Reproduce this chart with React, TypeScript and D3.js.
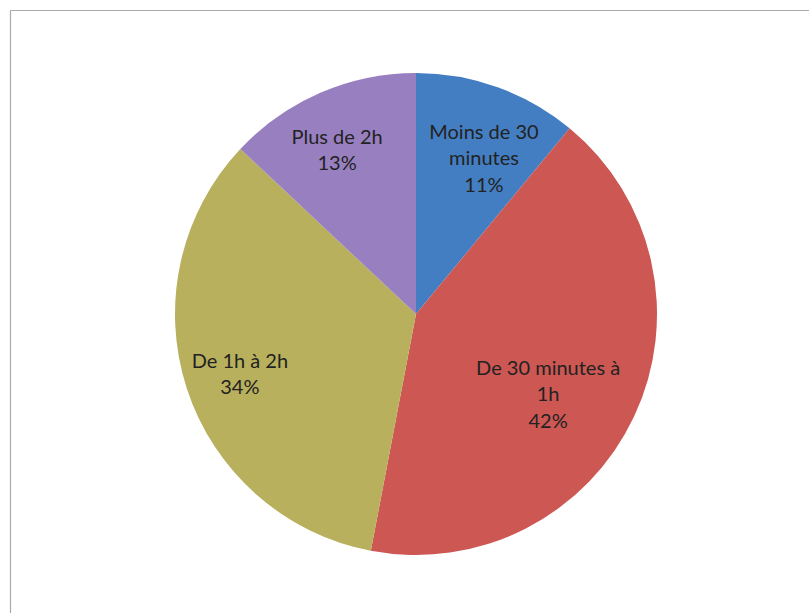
import React from "react";
import * as d3 from "d3";

const categories = ["Moins de 30 minutes", "De 30 minutes à 1h", "De 1h à 2h", "Plus de 2h"];
const values = [11, 42, 34, 13];
const labelLines = [
  ["Moins de 30", "minutes", "11%"],
  ["De 30 minutes à", "1h", "42%"],
  ["De 1h à 2h", "34%"],
  ["Plus de 2h", "13%"],
];
const colors = ["#447ec2", "#cd5753", "#b8b05d", "#9880c0"];
const labelRadiusFactor = [0.706, 0.641, 0.772, 0.755];
const labelAngleShiftDeg = [3.75, 6, -0.8, -2.3];

const W = 809;
const H = 613;
const cx = 416;
const cy = 314;
const R = 241;

export default function App() {
  const pie = d3.pie<number>().sort(null).value((d) => d);
  const arcs = pie(values);
  const arcGen = d3.arc<d3.PieArcDatum<number>>().innerRadius(0).outerRadius(R);
  const lineH = 26.5;
  return (
    <svg
      width={W}
      height={H}
      style={{ position: "absolute", left: 0, top: 0, background: "#fff" }}
      fontFamily="Lato, 'Open Sans', sans-serif"
    >
      <rect x={0} y={0} width={W} height={H} fill="#fff" />
      <line x1={10.5} y1={10.5} x2={W} y2={10.5} stroke="#aaa" strokeWidth={1.2} />
      <line x1={10.5} y1={10.5} x2={10.5} y2={H} stroke="#aaa" strokeWidth={1.2} />
      <g transform={`translate(${cx},${cy})`}>
        {arcs.map((a, i) => (
          <path key={categories[i]} d={arcGen(a) || ""} fill={colors[i]} />
        ))}
        {arcs.map((a, i) => {
          const mid = (a.startAngle + a.endAngle) / 2 + (labelAngleShiftDeg[i] * Math.PI) / 180;
          const r = R * labelRadiusFactor[i];
          const x = Math.sin(mid) * r;
          const y = -Math.cos(mid) * r;
          const lines = labelLines[i];
          const y0 = y - ((lines.length - 1) * lineH) / 2;
          return (
            <text key={"l" + i} textAnchor="middle" fontSize={20} fill="#222">
              {lines.map((t, j) => (
                <tspan key={j} x={x} y={y0 + j * lineH} dy="0.35em">
                  {t}
                </tspan>
              ))}
            </text>
          );
        })}
      </g>
    </svg>
  );
}
